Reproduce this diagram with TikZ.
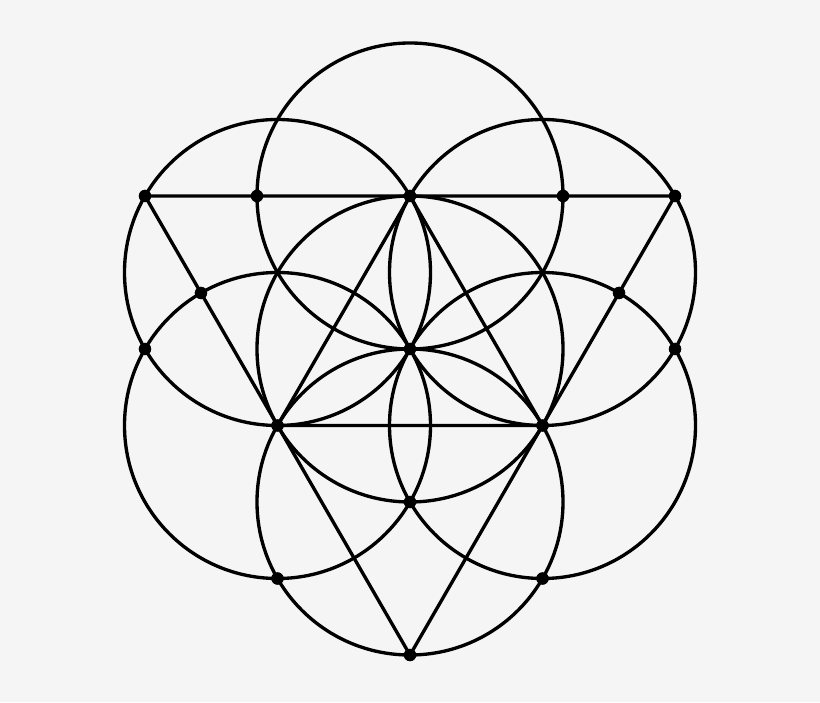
\documentclass[tikz,border=0pt]{standalone}
\usepackage{tikz}
\usetikzlibrary{positioning,calc}
\definecolor{paper}{HTML}{F5F5F5}
\tikzset{dot/.style={circle, fill=black, inner sep=0pt, minimum size=7pt}}

\begin{document}
\begin{tikzpicture}[x=0.02cm, y=0.02cm, line width=1.9pt]
		\fill[paper] (-410,-353) rectangle (410,349);
		\useasboundingbox (-410,-353) rectangle (410,349);

		% centre and the hexagon round it
		\draw (0,0) node [dot] (o) {};
		\draw (90:153) node [dot] (h1) {};
		\draw (30:153) coordinate (h2);
		\draw (-30:153) node [dot] (h3) {};
		\draw (-90:153) node [dot] (h4) {};
		\draw (210:153) node [dot] (h5) {};
		\draw (150:153) coordinate (h6);

		% outer points
		\draw (-265,153) node [dot] (a) {};
		\draw (265,153) node [dot] (b) {};
		\draw (0,-306) node [dot] (c) {};
		\draw (-153,153) node [dot] (p) {};
		\draw (153,153) node [dot] (q) {};
		\draw (-265,0) node [dot] (l) {};
		\draw (265,0) node [dot] (r) {};
		\draw ($(h5)+(120:153)$) node [dot] (u) {};
		\draw ($(h3)+(60:153)$) node [dot] (v) {};
		\draw ($(h5)+(0,-153)$) node [dot] (s) {};
		\draw ($(h3)+(0,-153)$) node [dot] (t) {};

		% seven circles
		\draw (o.center) circle (153);
		\draw (h1.center) circle (153);
		\draw (h2) circle (153);
		\draw (h3.center) circle (153);
		\draw (h4.center) circle (153);
		\draw (h5.center) circle (153);
		\draw (h6) circle (153);

		% triangles
		\draw (a.center) -- (b.center) -- (c.center) -- cycle;
		\draw (h1.center) -- (h5.center) -- (h3.center) -- cycle;

		% dots on top again
		\foreach \n in {o,h1,h3,h4,h5,a,b,c,p,q,l,r,u,v,s,t}
			\fill (\n) circle (3.5pt);
	\end{tikzpicture}
\end{document}
